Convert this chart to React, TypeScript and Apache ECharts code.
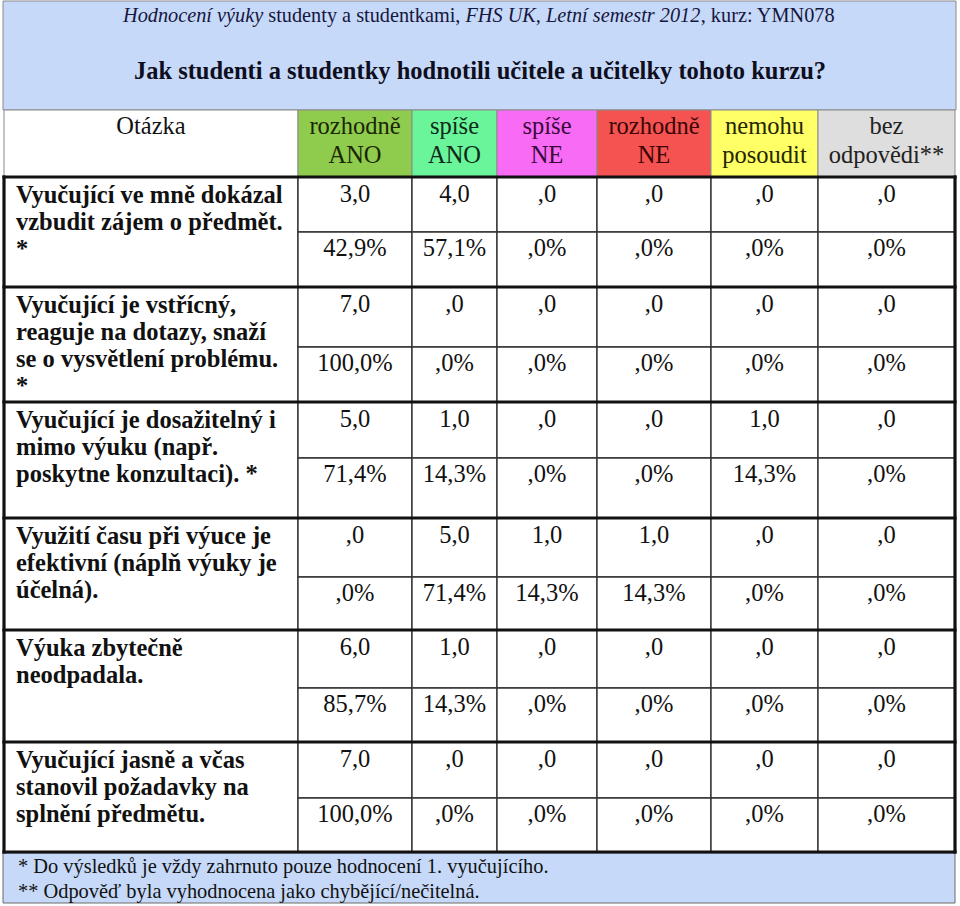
import React, { useEffect, useRef } from "react";
import * as echarts from "echarts";

// ---------- data ----------
const titleLine1 = "{i|Hodnocení výuky} studenty a studentkami, {i|FHS UK, Letní semestr 2012}, kurz: YMN078";
const titleLine2 = "Jak studenti a studentky hodnotili učitele a učitelky tohoto kurzu?";
const questionHeader = "Otázka";
const answerLabels = [
  ["rozhodně", "ANO"],
  ["spíše", "ANO"],
  ["spíše", "NE"],
  ["rozhodně", "NE"],
  ["nemohu", "posoudit"],
  ["bez", "odpovědi**"],
];
const questions = [
  ["Vyučující ve mně dokázal", "vzbudit zájem o předmět.", "*"],
  ["Vyučující je vstřícný,", "reaguje na dotazy, snaží", "se o vysvětlení problému.", "*"],
  ["Vyučující je dosažitelný i", "mimo výuku (např.", "poskytne konzultaci). *"],
  ["Využití času při výuce je", "efektivní (náplň výuky je", "účelná)."],
  ["Výuka zbytečně", "neodpadala."],
  ["Vyučující jasně a včas", "stanovil požadavky na", "splnění předmětu."],
];
const counts = [
  [3, 4, 0, 0, 0, 0],
  [7, 0, 0, 0, 0, 0],
  [5, 1, 0, 0, 1, 0],
  [0, 5, 1, 1, 0, 0],
  [6, 1, 0, 0, 0, 0],
  [7, 0, 0, 0, 0, 0],
];
const percents = [
  [42.9, 57.1, 0, 0, 0, 0],
  [100, 0, 0, 0, 0, 0],
  [71.4, 14.3, 0, 0, 14.3, 0],
  [0, 71.4, 14.3, 14.3, 0, 0],
  [85.7, 14.3, 0, 0, 0, 0],
  [100, 0, 0, 0, 0, 0],
];
const footnotes = [
  "* Do výsledků je vždy zahrnuto pouze hodnocení 1. vyučujícího.",
  "** Odpověď byla vyhodnocena jako chybějící/nečitelná.",
];

// ---------- layout & style ----------
const W = 960;
const H = 906;
const FONT = "'Liberation Serif', 'Times New Roman', serif";
const colEdges = [4, 298, 412, 497, 597, 711, 818, 955];
const titleBox = [3, 1, 956, 110];
const headerTop = 110;
const groupEdges = [177, 287, 402, 518, 630, 742, 852];
const subEdges = [232, 347, 458, 577, 688, 798];
const footerBox = [3, 853, 955, 903];
const headerFills = ["#8FCB4C", "#6AF59B", "#F86BF5", "#F55252", "#FFFF66", "#DEDEDE"];
const headerTextColors = ["#1A2606", "#0F2A18", "#3A0A3A", "#3A0606", "#262600", "#222222"];
const titleBg = "#C6D9F8";
const FS = 24.5;
const LINE = 27;
const HEAD_LINE = 29;
const TEXT_OFF = 16;

const fmt = (v: number, pct: boolean) => {
  const s = v === 0 ? ",0" : v.toFixed(1).replace(".", ",");
  return pct ? s + "%" : s;
};

type Cell = {
  x0: number; y0: number; x1: number; y1: number;
  fill: string; stroke: string; lw: number;
  lines: string[]; color: string; bold: boolean; align: "left" | "center";
  lineY0: number; pitch: number;
};

function buildCells(): Cell[] {
  const cells: Cell[] = [];
  cells.push({
    x0: colEdges[0], y0: headerTop, x1: colEdges[1], y1: groupEdges[0],
    fill: "#ffffff", stroke: "#8a8a8a", lw: 1, lines: [questionHeader], color: "#111",
    bold: false, align: "center", lineY0: headerTop + 15, pitch: HEAD_LINE,
  });
  answerLabels.forEach((lab, j) => {
    cells.push({
      x0: colEdges[j + 1], y0: headerTop, x1: colEdges[j + 2], y1: groupEdges[0],
      fill: headerFills[j], stroke: "#8a8a8a", lw: 1, lines: lab, color: headerTextColors[j],
      bold: false, align: "center", lineY0: headerTop + 15, pitch: HEAD_LINE,
    });
  });
  questions.forEach((q, i) => {
    const top = groupEdges[i];
    const bot = groupEdges[i + 1];
    const mid = subEdges[i];
    cells.push({
      x0: colEdges[0], y0: top, x1: colEdges[1], y1: bot,
      fill: "#ffffff", stroke: "#333", lw: 1.4, lines: q, color: "#111",
      bold: true, align: "left", lineY0: top + TEXT_OFF + 1, pitch: LINE,
    });
    for (let j = 0; j < 6; j++) {
      cells.push({
        x0: colEdges[j + 1], y0: top, x1: colEdges[j + 2], y1: mid,
        fill: "#ffffff", stroke: "#333", lw: 1.4, lines: [fmt(counts[i][j], false)], color: "#111",
        bold: false, align: "center", lineY0: top + TEXT_OFF, pitch: LINE,
      });
      cells.push({
        x0: colEdges[j + 1], y0: mid, x1: colEdges[j + 2], y1: bot,
        fill: "#ffffff", stroke: "#333", lw: 1.4, lines: [fmt(percents[i][j], true)], color: "#111",
        bold: false, align: "center", lineY0: mid + TEXT_OFF - 1, pitch: LINE,
      });
    }
  });
  return cells;
}

export default function App() {
  const ref = useRef<HTMLDivElement>(null);
  useEffect(() => {
    if (!ref.current) return;
    const chart = echarts.init(ref.current, undefined, { renderer: "svg" });
    const cells = buildCells();

    const cellSeries = {
      type: "custom",
      coordinateSystem: "cartesian2d",
      silent: true,
      data: cells.map((c) => [c.x0, c.y0]),
      renderItem: (params: any, api: any) => {
        const c = cells[params.dataIndex];
        const p0 = api.coord([c.x0, c.y0]);
        const p1 = api.coord([c.x1, c.y1]);
        return {
          type: "rect",
          shape: { x: p0[0], y: p0[1], width: p1[0] - p0[0], height: p1[1] - p0[1] },
          style: { fill: c.fill, stroke: c.stroke, lineWidth: c.lw },
        };
      },
      z: 2,
    };

    // thick frame lines
    const frameLines: number[][] = [];
    groupEdges.forEach((y) => frameLines.push([colEdges[0], y, colEdges[7], y]));
    frameLines.push([colEdges[0], groupEdges[0], colEdges[0], groupEdges[6]]);
    frameLines.push([colEdges[7], groupEdges[0], colEdges[7], groupEdges[6]]);
    const frameSeries = {
      type: "custom",
      coordinateSystem: "cartesian2d",
      silent: true,
      data: frameLines,
      renderItem: (params: any, api: any) => {
        const l = frameLines[params.dataIndex];
        const a = api.coord([l[0], l[1]]);
        const b = api.coord([l[2], l[3]]);
        return {
          type: "line",
          shape: { x1: a[0], y1: a[1], x2: b[0], y2: b[1] },
          style: { stroke: "#111", lineWidth: 3.2, lineCap: "square" },
        };
      },
      z: 3,
    };

    chart.setOption({
      animation: false,
      backgroundColor: "#ffffff",
      grid: { left: 0, right: 0, top: 0, bottom: 0 },
      xAxis: { type: "value", min: 0, max: W, show: false },
      yAxis: { type: "value", min: 0, max: H, inverse: true, show: false },
      series: [cellSeries, frameSeries],
    });

    const toPx = (x: number, y: number) =>
      chart.convertToPixel({ xAxisIndex: 0, yAxisIndex: 0 }, [x, y]) as number[];

    const cellTexts: any[] = [];
    cells.forEach((c) => {
      c.lines.forEach((t, k) => {
        const px = c.align === "left" ? c.x0 + 12 : (c.x0 + c.x1) / 2;
        const p = toPx(px, c.lineY0 + k * c.pitch);
        cellTexts.push({
          type: "text",
          x: p[0],
          y: p[1],
          silent: true,
          style: {
            text: t,
            fill: c.color,
            font: `${c.bold ? "bold " : ""}${FS}px ${FONT}`,
            align: c.align,
            verticalAlign: "middle",
          },
          z: 10,
        });
      });
    });

    const tb0 = toPx(titleBox[0], titleBox[1]);
    const tb1 = toPx(titleBox[2], titleBox[3]);
    const fb0 = toPx(footerBox[0], footerBox[1]);
    const fb1 = toPx(footerBox[2], footerBox[3]);
    const t1 = toPx(W / 2 - 1, 15);
    const t2 = toPx(W / 2, 70);

    chart.setOption({
      graphic: [
        {
          type: "rect",
          shape: { x: tb0[0], y: tb0[1], width: tb1[0] - tb0[0], height: tb1[1] - tb0[1] },
          style: { fill: titleBg, stroke: "#8a8a8a", lineWidth: 1 },
          z: 1,
        },
        {
          type: "text",
          x: t1[0],
          y: t1[1],
          style: {
            text: titleLine1,
            fill: "#16163E",
            font: `20.3px ${FONT}`,
            align: "center",
            verticalAlign: "middle",
            rich: { i: { fontStyle: "italic", fontSize: 20.3, fontFamily: FONT, fill: "#16163E" } },
          },
          z: 5,
        },
        {
          type: "text",
          x: t2[0],
          y: t2[1],
          style: {
            text: titleLine2,
            fill: "#0E0E20",
            font: `bold 24.5px ${FONT}`,
            align: "center",
            verticalAlign: "middle",
          },
          z: 5,
        },
        {
          type: "rect",
          shape: { x: fb0[0], y: fb0[1], width: fb1[0] - fb0[0], height: fb1[1] - fb0[1] },
          style: { fill: titleBg, stroke: "#6a6a6a", lineWidth: 1 },
          z: 1,
        },
        ...footnotes.map((t, k) => {
          const p = toPx(18, 866 + k * 25);
          return {
            type: "text",
            x: p[0],
            y: p[1],
            style: {
              text: t,
              fill: "#111",
              font: `20.4px ${FONT}`,
              align: "left",
              verticalAlign: "middle",
            },
            z: 5,
          };
        }),
        ...cellTexts,
      ],
    });
    return () => chart.dispose();
  }, []);
  return <div ref={ref} style={{ position: "fixed", left: 0, top: 0, width: W, height: H }} />;
}
